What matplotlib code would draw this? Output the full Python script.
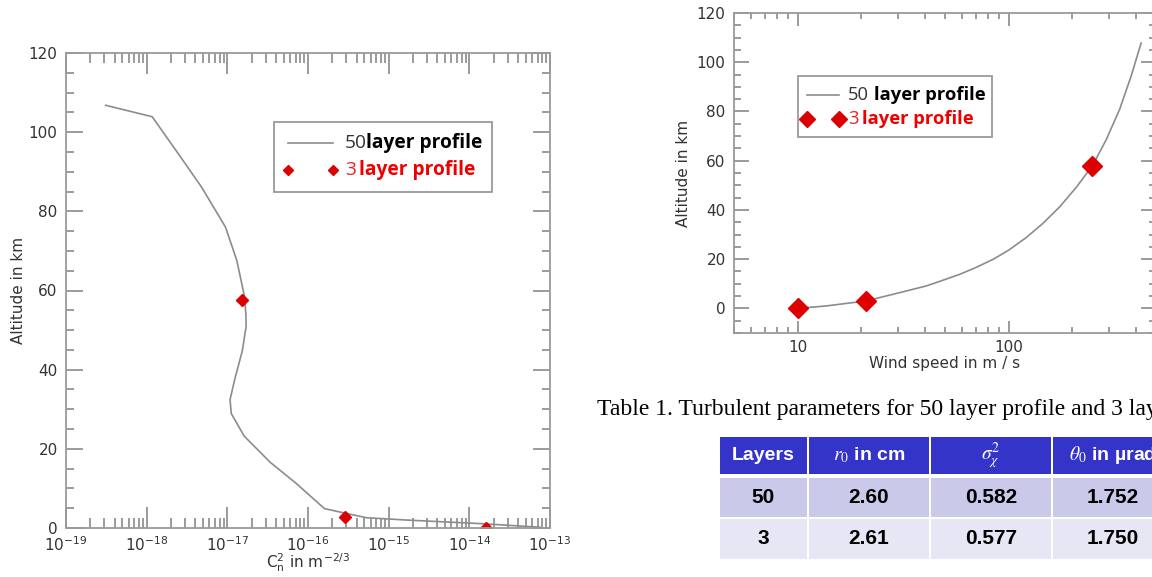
import matplotlib
matplotlib.use("Agg")
import matplotlib.pyplot as plt
from matplotlib.patches import Rectangle
from matplotlib.lines import Line2D
from matplotlib.ticker import LogLocator, MultipleLocator, FixedLocator, NullFormatter, FuncFormatter

plt.rcParams['mathtext.fontset'] = 'stix'

W, H = 1152, 577

# left panel: Cn2 profile
cn2_alt = [106.8, 103.9, 94.9, 86.1, 76.0, 67.6, 62.0, 58.8, 54.0, 50.9, 44.7, 37.7,
           32.4, 28.9, 23.2, 16.6, 11.3, 4.9, 3.8, 2.6, 2.0, 1.1, 0.2]
cn2_50 = [3.1e-19, 1.17e-18, 2.4e-18, 4.8e-18, 9.5e-18, 1.31e-17, 1.5e-17, 1.62e-17,
          1.7e-17, 1.71e-17, 1.53e-17, 1.24e-17, 1.08e-17, 1.12e-17, 1.62e-17, 3.4e-17,
          7.1e-17, 1.6e-16, 2.8e-16, 5.3e-16, 1.7e-15, 1.4e-14, 7.5e-14]
cn2_3 = [1.5e-17, 2.9e-16, 1.6e-14]
cn2_3_alt = [57.5, 2.9, 0.0]

# right panel: wind profile
wind_50 = [10, 13.7, 21, 28.3, 40.7, 48, 58.6, 70, 84.4, 100, 121, 145, 175, 210, 250,
           290, 336, 381, 425]
wind_alt = [0, 1.0, 3.0, 5.7, 9.1, 11.2, 13.8, 16.6, 19.9, 23.6, 28.7, 34.4, 41.3,
            49.3, 58.0, 68.4, 80.8, 94.3, 107.8]
wind_3 = [10, 21, 250]
wind_3_alt = [0, 3.0, 58.0]

# table
caption = "Table 1. Turbulent parameters for 50 layer profile and 3 layer profile."
col_heads = ["Layers", r"$r_0$ in cm", r"$\sigma_\chi^2$", r"$\theta_0$ in µrad"]
layers = ["50", "3"]
r0_cm = ["2.60", "2.61"]
sigma_chi = ["0.582", "0.577"]
theta0 = ["1.752", "1.750"]


def fx(x):
    return x / W


def fy(y):
    return 1 - y / H


def style_axes(ax, xmaj, xmin, ymaj, ymin):
    for s in ax.spines.values():
        s.set_color('#9a9a9a')
        s.set_linewidth(1.3)
    ax.tick_params(which='both', direction='in', top=True, right=True,
                   color='#8a8a8a', labelcolor='#333333', labelsize=11, width=1.2)
    ax.tick_params(axis='x', which='major', length=xmaj, pad=5)
    ax.tick_params(axis='x', which='minor', length=xmin)
    ax.tick_params(axis='y', which='major', length=ymaj, pad=6)
    ax.tick_params(axis='y', which='minor', length=ymin)


fig = plt.figure(figsize=(W / 100, H / 100), dpi=100)

# ---- left plot
ax1 = fig.add_axes([fx(66), fy(528), 484 / W, 475 / H])
ax1.plot(cn2_50, cn2_alt, color='#8c8c8c', lw=1.2)
ax1.plot(cn2_3, cn2_3_alt, 'D', color='#dd0000', ms=6, ls='none')
ax1.set_xscale('log')
ax1.set_xlim(1e-19, 1e-13)
ax1.set_ylim(0, 120)
ax1.xaxis.set_major_locator(LogLocator(base=10, numticks=10))
ax1.xaxis.set_minor_locator(LogLocator(base=10, subs=range(2, 10), numticks=20))
ax1.xaxis.set_minor_formatter(NullFormatter())
ax1.yaxis.set_major_locator(MultipleLocator(20))
ax1.yaxis.set_minor_locator(MultipleLocator(5))
style_axes(ax1, 15, 7.5, 12, 6)
ax1.set_ylabel("Altitude in km", color='#333333', fontsize=11, labelpad=2)
ax1.set_xlabel(r"C$_\mathregular{n}^\mathregular{2}$ in m$^\mathregular{-2/3}$",
               color='#333333', fontsize=11, labelpad=-1)

# ---- right plot
ax2 = fig.add_axes([fx(734), fy(333), 422 / W, 320 / H])
ax2.plot(wind_50, wind_alt, color='#8c8c8c', lw=1.2)
ax2.plot(wind_3, wind_3_alt, 'D', color='#dd0000', ms=10, ls='none')
ax2.set_xscale('log')
ax2.set_xlim(5, 500)
ax2.set_ylim(-10, 120)
ax2.xaxis.set_major_locator(FixedLocator([10, 100]))
ax2.xaxis.set_major_formatter(FuncFormatter(lambda v, p: "%d" % v))
ax2.xaxis.set_minor_locator(LogLocator(base=10, subs=range(2, 10), numticks=20))
ax2.xaxis.set_minor_formatter(NullFormatter())
ax2.yaxis.set_major_locator(MultipleLocator(20))
ax2.yaxis.set_minor_locator(MultipleLocator(5))
style_axes(ax2, 9, 4.5, 10.5, 5)
ax2.set_ylabel("Altitude in km", color='#333333', fontsize=11, labelpad=4)
ax2.set_xlabel("Wind speed in m / s", color='#333333', fontsize=11, labelpad=1)


# ---- legends drawn by hand (mixed colours inside one label)
def legend_box(x0, y0, x1, y1, row1, row2, hx0, hx1, tx, bx, bx2, ms, fs):
    fig.patches.append(Rectangle((fx(x0), fy(y1)), fx(x1 - x0), (y1 - y0) / H,
                                 transform=fig.transFigure, fill=False,
                                 edgecolor='#9a9a9a', lw=1.3))
    fig.lines.append(Line2D([fx(hx0), fx(hx1)], [fy(row1), fy(row1)],
                            transform=fig.transFigure, color='#8c8c8c', lw=1.2))
    fig.lines.append(Line2D([fx(hx0), fx(hx1)], [fy(row2), fy(row2)],
                            transform=fig.transFigure, color='#dd0000', ls='none',
                            marker='D', ms=ms))
    fam = ['Open Sans', 'DejaVu Sans']
    fig.text(fx(tx), fy(row1), "50", color='#333333', fontsize=fs, family=fam, va='center')
    fig.text(fx(bx), fy(row1), "layer profile", color='black', fontsize=fs,
             family=fam, weight='bold', va='center')
    fig.text(fx(tx), fy(row2), "3", color='#ee2222', fontsize=fs, family=fam, va='center')
    fig.text(fx(bx2), fy(row2), "layer profile", color='#ee0000', fontsize=fs,
             family=fam, weight='bold', va='center')


legend_box(274, 122, 492, 192, 143, 170, 288, 333, 345, 366, 359, 5, 13.8)
legend_box(798, 76, 992, 137, 95, 119, 807, 839, 848, 874, 862, 8, 13.2)

# ---- caption
fig.text(fx(597), fy(415), caption, family='Liberation Serif', fontsize=17,
         color='black', va='baseline')

# ---- table
col_edges = [719, 808, 930, 1052, 1174]
row_edges = [(437, 474), (478, 517), (519, 559)]
row_colors = ['#3434c8', '#c9c9e9', '#e6e6f4']
rows = [col_heads] + [list(r) for r in zip(layers, r0_cm, sigma_chi, theta0)]
for ri, (ya, yb) in enumerate(row_edges):
    for ci in range(4):
        xa, xb = col_edges[ci] + 1, col_edges[ci + 1] - 1
        fig.patches.append(Rectangle((fx(xa), fy(yb)), (xb - xa) / W, (yb - ya) / H,
                                     transform=fig.transFigure,
                                     facecolor=row_colors[ri], edgecolor='none'))
        txt = rows[ri][ci]
        if ri == 0:
            fig.text(fx((xa + xb) / 2), fy((ya + yb) / 2), txt, color='white',
                     fontsize=14, weight='bold', family='Liberation Sans',
                     ha='center', va='center')
        else:
            fig.text(fx((xa + xb) / 2), fy((ya + yb) / 2), txt, color='black',
                     fontsize=15, weight='bold', family='Liberation Sans',
                     ha='center', va='center')

fig.savefig("out.png", dpi=100)
